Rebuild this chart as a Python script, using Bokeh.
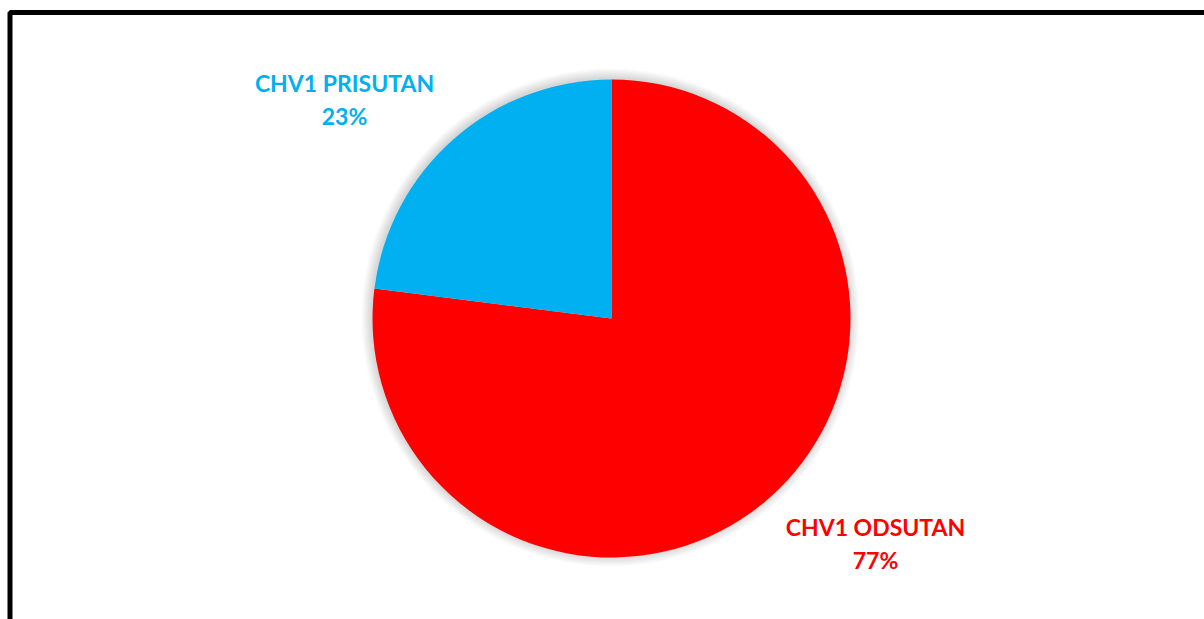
import math
from bokeh.plotting import figure
from bokeh.models import Range1d
from bokeh.core.properties import value
from bokeh.embed import file_html
from bokeh.resources import INLINE

# ---- data ----
categories = ["CHV1 ODSUTAN", "CHV1 PRISUTAN"]
percentages = [77, 23]
colors = ["#FF0000", "#00B0F0"]

# ---- layout (pixel coordinates, y up) ----
W, H = 1204, 619
cx, cy, R = 611, H - 318, 239
label_pos = {"CHV1 ODSUTAN": (875, H - 526), "CHV1 PRISUTAN": (344, H - 82)}
line_gap = 33

p = figure(width=W, height=H, output_backend="svg", toolbar_location=None,
           x_range=Range1d(0, W), y_range=Range1d(0, H), min_border=0)
p.axis.visible = False
p.grid.visible = False
p.outline_line_color = None
p.background_fill_color = "white"
p.border_fill_color = "white"

# outer frame (runs off right and bottom edges)
p.quad(left=[9.5], right=[W + 50], top=[H - 12], bottom=[-50],
       fill_color=None, line_color="black", line_width=5)

# soft shadow
for i in range(10):
    p.circle(x=[cx - 1], y=[cy + 1], radius=R + 10 - i, fill_color="black",
             fill_alpha=0.014, line_color=None)

# wedges: Excel style, starting at top, clockwise
total = sum(percentages)
start = math.pi / 2
starts, ends = [], []
for v in percentages:
    end = start - v / total * 2 * math.pi
    starts.append(start)
    ends.append(end)
    start = end
p.wedge(x=[cx] * len(categories), y=[cy] * len(categories), radius=R,
        start_angle=starts, end_angle=ends, direction="clock",
        fill_color=colors, line_color=None)

# labels
for cat, pct, col in zip(categories, percentages, colors):
    lx, ly = label_pos[cat]
    p.text(x=[lx], y=[ly], text=[cat], text_color=col,
           text_font=value("Lato"), text_font_style="bold",
           text_font_size="23px", text_align="center", text_baseline="middle")
    p.text(x=[lx], y=[ly - line_gap], text=[f"{pct}%"], text_color=col,
           text_font=value("Lato"), text_font_style="bold",
           text_font_size="23px", text_align="center", text_baseline="middle")

open("out.html", "w").write(file_html(p, INLINE))
